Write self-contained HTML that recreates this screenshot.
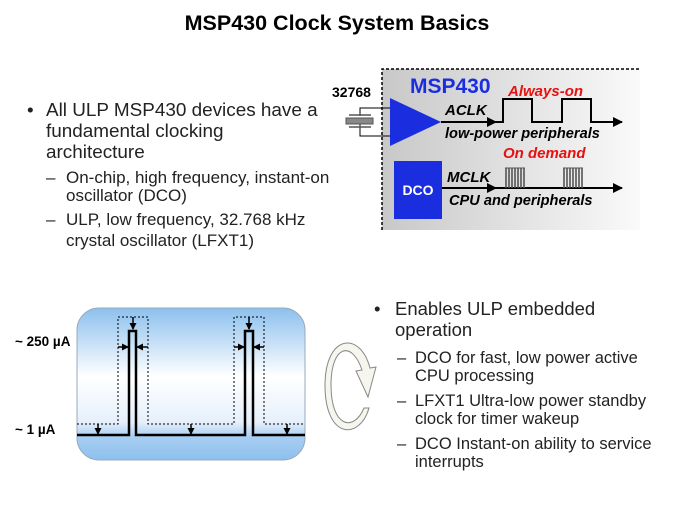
<!DOCTYPE html><html><head><style>body{margin:0;background:#fff}svg{display:block}text{font-family:"Liberation Sans",sans-serif}</style></head><body>
<svg width="674" height="506" viewBox="0 0 674 506" xmlns="http://www.w3.org/2000/svg">
<defs>
<linearGradient id="g1" x1="0" x2="1" y1="0" y2="0"><stop offset="0" stop-color="#c8c8c8"/><stop offset="1" stop-color="#fafafa"/></linearGradient>
<linearGradient id="g2" x1="0" x2="0" y1="0" y2="1"><stop offset="0" stop-color="#8cc0ee"/><stop offset="0.45" stop-color="#ffffff"/><stop offset="0.75" stop-color="#e6f0fb"/><stop offset="0.85" stop-color="#a8cdf2"/><stop offset="1" stop-color="#8cc0ee"/></linearGradient>
<marker id="ah" markerUnits="userSpaceOnUse" markerWidth="10" markerHeight="10" refX="9" refY="5" orient="auto"><path d="M0,0L10,5L0,10z" fill="#000"/></marker>
<marker id="sa" markerUnits="userSpaceOnUse" markerWidth="7" markerHeight="7" refX="6" refY="3.5" orient="auto"><path d="M0,0L7,3.5L0,7z" fill="#000"/></marker>
</defs>
<text x="337" y="30" text-anchor="middle" font-size="21.5" font-weight="bold">MSP430 Clock System Basics</text>
<g font-size="18.9" fill="#222">
<text x="27" y="116">•</text><text x="46" y="116">All ULP MSP430 devices have a</text>
<text x="46" y="137">fundamental clocking</text><text x="46" y="158">architecture</text></g>
<g font-size="17" fill="#222">
<text x="46" y="183">–</text><text x="66" y="183">On-chip, high frequency, instant-on</text><text x="66" y="201">oscillator (DCO)</text>
<text x="46" y="225">–</text><text x="66" y="225">ULP, low frequency, 32.768 kHz</text><text x="66" y="246">crystal oscillator (LFXT1)</text></g>
<rect x="382" y="69" width="258" height="161" fill="url(#g1)"/>
<path d="M382,230V69H640" fill="none" stroke="#000" stroke-width="1.5" stroke-dasharray="3,2"/>
<text x="410" y="93" font-size="21" font-weight="bold" fill="#1a2ee0">MSP430</text>
<text x="332" y="97" font-size="14" font-weight="bold">32768</text>
<path d="M390,108H360V116M360,124V136H390" fill="none" stroke="#000"/>
<rect x="346" y="118" width="27" height="6" fill="#888" stroke="#555"/>
<path d="M349,115H371M349,127H371" stroke="#555" stroke-width="1.5"/>
<path d="M390,98L441,122L390,146z" fill="#1a2ee0"/>
<path d="M441,122H496" stroke="#000" stroke-width="2" marker-end="url(#ah)"/>
<path d="M496,122H503V99H532V122H562V99H591V122H622" fill="none" stroke="#000" stroke-width="2" marker-end="url(#ah)"/>
<text x="508" y="96" font-size="15" font-weight="bold" font-style="italic" fill="#e81010">Always-on</text>
<text x="445" y="115" font-size="15" font-weight="bold" font-style="italic">ACLK</text>
<text x="445" y="138" font-size="14.6" font-weight="bold" font-style="italic">low-power peripherals</text>
<rect x="394" y="161" width="48" height="58" fill="#1a2ee0"/>
<text x="418" y="195" font-size="14" font-weight="bold" fill="#fff" text-anchor="middle">DCO</text>
<path d="M442,188H496" stroke="#000" stroke-width="2" marker-end="url(#ah)"/>
<path d="M496,188H622" stroke="#000" stroke-width="2" marker-end="url(#ah)"/>
<path d="M506,188V168M509,188V168M512,188V168M515,188V168M518,188V168M521,188V168M524,188V168M564,188V168M567,188V168M570,188V168M573,188V168M576,188V168M579,188V168M582,188V168" stroke="#555" stroke-width="1.6"/>
<path d="M505,168H525M563,168H583" stroke="#555"/>
<text x="503" y="158" font-size="15" font-weight="bold" font-style="italic" fill="#e81010">On demand</text>
<text x="447" y="182" font-size="15" font-weight="bold" font-style="italic">MCLK</text>
<text x="449" y="205" font-size="14.6" font-weight="bold" font-style="italic">CPU and peripherals</text>
<rect x="77" y="308" width="228" height="152" rx="22" fill="url(#g2)" stroke="#9ab" stroke-width="1"/>
<text x="15" y="346" font-size="13.5" font-weight="bold">~ 250 µA</text>
<text x="15" y="434" font-size="13.5" font-weight="bold">~ 1 µA</text>
<path d="M77,435H129V331H136V435H245V331H253V435H305" fill="none" stroke="#000" stroke-width="2.5"/>
<path d="M77,424H118V317H148V424H234V317H264V424H305" fill="none" stroke="#000" stroke-dasharray="2,2"/>
<g stroke="#000" stroke-width="1.5">
<path d="M98,424V434" marker-end="url(#sa)"/><path d="M191,424V434" marker-end="url(#sa)"/><path d="M287,424V434" marker-end="url(#sa)"/>
<path d="M133,317V329" marker-end="url(#sa)"/><path d="M249,317V329" marker-end="url(#sa)"/>
<path d="M118,347H128" marker-end="url(#sa)"/><path d="M148,347H137" marker-end="url(#sa)"/>
<path d="M234,347H244" marker-end="url(#sa)"/><path d="M264,347H254" marker-end="url(#sa)"/></g>
<path d="M364,408 C354,432 331,428 331,385 C331,345 352,340 362,370 L356,371 L368,397 L376,367 L370,368 C360,330 325,335 325,385 C325,440 360,440 369,408z" fill="#f6f6ee" stroke="#888"/>
<g font-size="18.5" fill="#222"><text x="374" y="315">•</text><text x="395" y="315">Enables ULP embedded</text><text x="395" y="336">operation</text></g>
<g font-size="16.5" fill="#222">
<text x="397" y="363">–</text><text x="415" y="363">DCO for fast, low power active</text><text x="415" y="381">CPU processing</text>
<text x="397" y="406">–</text><text x="415" y="406">LFXT1 Ultra-low power standby</text><text x="415" y="424">clock for timer wakeup</text>
<text x="397" y="449">–</text><text x="415" y="449">DCO Instant-on ability  to service</text><text x="415" y="467">interrupts</text></g>
</svg></body></html>
